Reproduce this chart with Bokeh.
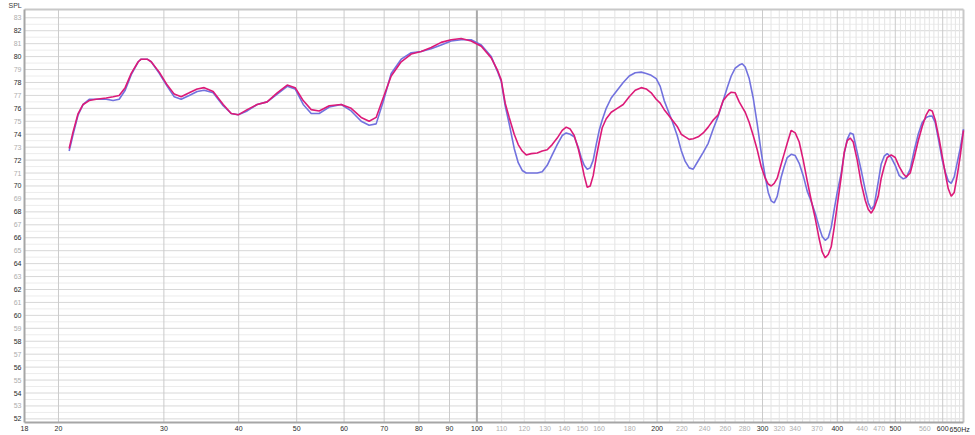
from bokeh.plotting import figure
from bokeh.models import Range1d
from bokeh.core.properties import value
from bokeh.embed import file_html
from bokeh.resources import INLINE

# ---- data (frequency in Hz, SPL in dB) ----
freq = [20.84, 21.16, 21.57, 21.99, 22.51, 23.13, 24.03, 24.68, 25.26, 25.85,
        26.46, 27.18, 27.49, 28.13, 28.57, 29.47, 30.39, 31.22, 32.06, 33.07,
        34.10, 35.03, 36.26, 37.69, 38.87, 39.93, 41.33, 42.95, 44.63, 46.39,
        48.21, 49.71, 51.27, 52.87, 54.52, 56.67, 59.35, 61.66, 64.08, 66.07,
        67.88, 69.73, 71.92, 74.74, 77.67, 80.71, 83.88, 87.17, 90.58, 94.14,
        97.82, 101.7, 105.67, 108.13, 109.81, 111.51, 113.24, 115.44, 117.23, 119.05,
        120.89, 123.24, 126.12, 128.57, 131.07, 133.61, 136.21, 138.85, 141.00, 143.19,
        145.41, 147.66, 149.38, 151.11, 152.87, 154.64, 156.43, 158.25, 160.09, 161.95,
        164.46, 167.65, 171.56, 175.57, 179.67, 183.87, 188.16, 191.81, 195.54, 199.33,
        202.42, 205.56, 208.75, 211.99, 216.10, 219.45, 222.86, 226.31, 229.82, 234.28,
        238.83, 243.47, 248.20, 253.02, 257.93, 261.93, 265.99, 270.12, 274.31, 277.49,
        280.71, 285.06, 289.48, 293.97, 298.53, 303.16, 306.68, 310.24, 313.84, 317.48,
        322.40, 326.15, 329.93, 335.05, 340.24, 345.52, 350.87, 356.32, 361.84, 367.45,
        373.15, 377.48, 381.86, 386.29, 390.78, 395.31, 399.90, 406.10, 410.82, 415.58,
        420.41, 425.29, 431.88, 438.58, 445.38, 450.55, 455.78, 461.07, 468.22, 473.65,
        479.15, 484.71, 492.22, 499.86, 507.60, 515.48, 521.46, 529.54, 537.76, 546.09,
        554.56, 563.16, 569.70, 576.31, 583.00, 592.04, 598.91, 605.86, 612.89, 620.01,
        627.20, 634.48, 641.84, 650.0]

spl_magenta = [72.9, 74.2, 75.6, 76.3, 76.6, 76.7, 76.8, 76.9, 77.0, 77.6,
               78.7, 79.6, 79.8, 79.8, 79.6, 78.8, 77.8, 77.1, 76.9, 77.2,
               77.5, 77.6, 77.3, 76.3, 75.6, 75.5, 75.9, 76.3, 76.5, 77.2,
               77.8, 77.6, 76.6, 75.9, 75.8, 76.2, 76.3, 76.0, 75.3, 75.0,
               75.3, 76.8, 78.5, 79.6, 80.2, 80.4, 80.7, 81.1, 81.3, 81.4,
               81.2, 80.8, 79.9, 79.0, 78.2, 76.4, 75.3, 74.0, 73.2, 72.7,
               72.4, 72.5, 72.55, 72.7, 72.8, 73.2, 73.7, 74.3, 74.55, 74.4,
               73.9, 72.9, 71.9, 70.8, 69.9, 70.0, 70.8, 72.2, 73.4, 74.5,
               75.2, 75.7, 76.0, 76.3, 76.9, 77.4, 77.6, 77.5, 77.2, 76.7,
               76.4, 75.9, 75.5, 75.1, 74.6, 74.0, 73.8, 73.6, 73.65, 73.8,
               74.1, 74.55, 75.1, 75.5, 76.6, 77.0, 77.25, 77.2, 76.5, 76.1,
               75.7, 74.9, 73.9, 72.8, 71.5, 70.6, 70.15, 70.0, 70.2, 70.6,
               71.7, 72.5, 73.3, 74.3, 74.1, 73.4, 72.0, 70.4, 68.9, 67.5,
               65.9, 64.9, 64.45, 64.7, 65.3, 66.8, 68.5, 70.7, 72.6, 73.5,
               73.7, 73.4, 72.0, 70.2, 68.9, 68.2, 67.9, 68.3, 69.2, 70.6,
               71.5, 72.2, 72.4, 72.2, 71.5, 70.95, 70.7, 71.0, 72.2, 73.5,
               74.6, 75.5, 75.9, 75.8, 75.1, 73.6, 72.3, 71.0, 69.8, 69.2,
               69.5, 70.8, 72.3, 74.3]

spl_blue = [72.7, 74.0, 75.5, 76.3, 76.7, 76.7, 76.7, 76.6, 76.7, 77.4,
            78.6, 79.6, 79.8, 79.8, 79.6, 78.7, 77.7, 76.9, 76.7, 77.0,
            77.3, 77.4, 77.2, 76.2, 75.6, 75.5, 75.8, 76.3, 76.5, 77.1,
            77.7, 77.5, 76.3, 75.6, 75.6, 76.1, 76.3, 75.8, 75.0, 74.7,
            74.8, 76.5, 78.7, 79.8, 80.3, 80.4, 80.6, 80.9, 81.2, 81.3,
            81.3, 80.9, 80.0, 78.9, 78.1, 76.2, 74.8, 72.9, 71.8, 71.2,
            71.0, 71.0, 71.0, 71.1, 71.6, 72.4, 73.2, 73.9, 74.1, 74.0,
            73.8, 73.0, 72.2, 71.6, 71.3, 71.4, 72.0, 73.2, 74.3, 75.1,
            76.0, 76.8, 77.4, 78.0, 78.5, 78.75, 78.8, 78.7, 78.55, 78.3,
            77.7, 76.6, 75.8, 75.0, 73.9, 72.75, 71.9, 71.4, 71.3, 71.95,
            72.6, 73.3, 74.4, 75.4, 76.6, 77.6, 78.5, 79.1, 79.35, 79.45,
            79.2, 78.3, 76.8, 74.8, 72.6, 70.7, 69.5, 68.85, 68.7, 69.2,
            70.7, 71.5, 72.2, 72.45, 72.35, 71.75, 70.8, 69.6, 68.8, 67.9,
            66.8, 66.1, 65.8, 66.0, 66.8, 68.2, 69.5, 71.0, 72.5, 73.6,
            74.1, 74.0, 72.6, 71.2, 69.7, 68.7, 68.2, 68.5, 70.3, 71.7,
            72.3, 72.5, 72.2, 71.6, 70.8, 70.55, 70.65, 71.3, 72.75, 74.0,
            74.9, 75.3, 75.4, 75.4, 74.9, 73.3, 72.0, 71.1, 70.4, 70.2,
            70.7, 71.8, 72.9, 74.4]

x_major_ticks = [20, 30, 40, 50, 60, 70, 80, 90, 100, 200, 300, 400, 500, 600]
x_minor_ticks = [110, 120, 130, 140, 150, 160, 180, 220, 240, 260, 280, 320, 340, 370, 440, 470, 560]
x_start_label = "18"
x_end_label = "650Hz"
x_fine_grid = [f for f in range(110, 650, 10) if f % 100 != 0]
y_major_ticks = list(range(52, 84, 2))
y_minor_ticks = list(range(53, 84, 2))
y_unit = "SPL"

# plot-area extent (data) and its pixel box inside the canvas
X0, X1 = 17.55, 650.0
Y0, Y1 = 51.72, 83.64
W, H = 973, 433
LEFT, RIGHT, TOP, BOTTOM = 24, 963, 9, 422           # pixel box of the plot area
PXDEC = (RIGHT - LEFT) / 1.568663                       # pixels per decade
PXDB = (BOTTOM - TOP) / (Y1 - Y0)                       # pixels per dB
XL = X0 / 10 ** (LEFT / PXDEC)
XR = X1 * 10 ** ((W - RIGHT) / PXDEC)
YB = Y0 - (H - BOTTOM) / PXDB
YT = Y1 + TOP / PXDB

FONT = value("Liberation Sans")
FS = value("7px")
DARK = "#2a2a2a"
LIGHT = "#adadad"

p = figure(width=W, height=H, x_axis_type="log", output_backend="svg",
           toolbar_location=None, x_range=Range1d(XL, XR), y_range=Range1d(YB, YT),
           x_axis_location=None, y_axis_location=None,
           min_border_left=0, min_border_right=0, min_border_top=0, min_border_bottom=0)
p.background_fill_color = "white"
p.border_fill_color = "white"
p.outline_line_color = None
for g in list(p.xgrid) + list(p.ygrid):
    g.visible = False

# ---- grid ----
half = [v + 0.5 for v in range(52, 83)]
p.segment(x0=[X0] * len(half), x1=[X1] * len(half), y0=half, y1=half,
          line_color="#ececec", line_width=1)
ints = list(range(52, 84))
p.segment(x0=[X0] * len(ints), x1=[X1] * len(ints), y0=ints, y1=ints,
          line_color="#d8d8d8", line_width=1)
p.segment(x0=x_fine_grid, x1=x_fine_grid, y0=[Y0] * len(x_fine_grid), y1=[Y1] * len(x_fine_grid),
          line_color="#e4e4e4", line_width=1)
mid = [t for t in x_major_ticks if t != 100]
p.segment(x0=mid, x1=mid, y0=[Y0] * len(mid), y1=[Y1] * len(mid),
          line_color="#cbcbcb", line_width=1)
p.segment(x0=[100], x1=[100], y0=[Y0], y1=[Y1], line_color="#a9a9a9", line_width=2)

# ---- plot-area border ----
p.segment(x0=[X0, X1], x1=[X1, X1], y0=[Y1, Y0], y1=[Y1, Y1], line_color="#c8c8c8", line_width=2)
p.segment(x0=[X0, X0], x1=[X1, X0], y0=[Y0, Y0], y1=[Y0, Y1], line_color="#a6a6a6", line_width=2)

# ---- curves ----
p.line(freq, spl_blue, line_color="#7272de", line_width=1.6)
p.line(freq, spl_magenta, line_color="#dc1a78", line_width=1.6)

# ---- tick labels ----
ylab = Y0 - 3.5 / PXDB
p.text(x=x_major_ticks, y=[ylab] * len(x_major_ticks), text=[str(t) for t in x_major_ticks],
       text_align="center", text_baseline="top", text_font=FONT, text_font_size=FS,
       text_color=DARK)
p.text(x=x_minor_ticks, y=[ylab] * len(x_minor_ticks), text=[str(t) for t in x_minor_ticks],
       text_align="center", text_baseline="top", text_font=FONT, text_font_size=FS,
       text_color=LIGHT)
p.text(x=[X0], y=[ylab], text=[x_start_label], text_align="center", text_baseline="top",
       text_font=FONT, text_font_size=FS, text_color=DARK)
p.text(x=[X1], y=[ylab], text=[x_end_label], x_offset=-14, text_align="left", text_baseline="top",
       text_font=FONT, text_font_size=FS, text_color=DARK)

p.text(x=[X0] * len(y_major_ticks), y=y_major_ticks, text=[str(t) for t in y_major_ticks],
       x_offset=-3, text_align="right", text_baseline="middle",
       text_font=FONT, text_font_size=FS, text_color=DARK)
p.text(x=[X0] * len(y_minor_ticks), y=y_minor_ticks, text=[str(t) for t in y_minor_ticks],
       x_offset=-3, text_align="right", text_baseline="middle",
       text_font=FONT, text_font_size=FS, text_color=LIGHT)

p.text(x=[X0], y=[YT - 1.5 / PXDB], text=[y_unit], x_offset=-16, text_align="left",
       text_baseline="top", text_font=FONT, text_font_size=FS, text_color="#3a3a3a")

open("out.html", "w").write(file_html(p, INLINE))
